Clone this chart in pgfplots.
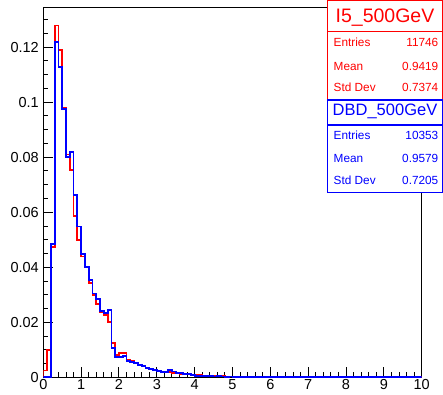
\documentclass[border=0pt]{standalone}
\usepackage{fontspec}
\setmainfont{Liberation Sans}
\usepackage{pgfplots}
\usepackage{pgfplotstable}
\pgfplotsset{compat=1.18}

% bin low edge, normalised content (last row closes the outline at x=10)
\pgfplotstableread[row sep=\\]{
x y\\
0.0 0\\ 0.0 0.0025\\ 0.1 0.0100\\ 0.2 0.0475\\ 0.3 0.1279\\ 0.4 0.1190\\
0.5 0.0978\\ 0.6 0.0810\\ 0.7 0.0755\\ 0.8 0.0587\\ 0.9 0.0499\\
1.0 0.0439\\ 1.1 0.0400\\ 1.2 0.0342\\ 1.3 0.0299\\ 1.4 0.0267\\
1.5 0.0238\\ 1.6 0.0227\\ 1.7 0.0202\\ 1.8 0.0124\\ 1.9 0.0081\\
2.0 0.0087\\ 2.1 0.0087\\ 2.2 0.0065\\ 2.3 0.0058\\ 2.4 0.0051\\
2.5 0.0046\\ 2.6 0.0040\\ 2.7 0.0034\\ 2.8 0.0030\\ 2.9 0.0026\\
3.0 0.0022\\ 3.1 0.0021\\ 3.2 0.0019\\ 3.3 0.0018\\ 3.4 0.0016\\
3.5 0.0015\\ 3.6 0.0013\\ 3.7 0.0012\\ 3.8 0.0010\\ 3.9 0.0009\\
4.0 0.0008\\ 4.1 0.0007\\ 4.2 0.0006\\ 4.3 0.0006\\ 4.4 0.0005\\
4.5 0.0005\\ 4.6 0.0004\\ 4.7 0.0004\\ 4.8 0.0003\\ 4.9 0.0003\\
5.0 0.0003\\ 5.1 0.0002\\ 5.2 0.0003\\ 5.3 0.0002\\ 5.4 0.0002\\
5.5 0.0002\\ 5.6 0.0001\\ 5.7 0.0002\\ 5.8 0.0001\\ 5.9 0.0001\\
6.0 0.0001\\ 6.1 0.0001\\ 6.2 0.0001\\ 6.3 0\\ 6.4 0.0001\\
6.5 0.0001\\ 6.6 0\\ 6.7 0.0001\\ 6.8 0\\ 6.9 0.0001\\
7.0 0.0001\\ 7.1 0\\ 7.2 0\\ 7.3 0.0001\\ 7.4 0\\
7.5 0\\ 7.6 0\\ 7.7 0.0001\\ 7.8 0\\ 7.9 0\\
8.0 0\\ 8.1 0\\ 8.2 0.0001\\ 8.3 0\\ 8.4 0\\
8.5 0\\ 8.6 0\\ 8.7 0\\ 8.8 0\\ 8.9 0\\
9.0 0.0001\\ 9.1 0\\ 9.2 0\\ 9.3 0\\ 9.4 0\\
9.5 0\\ 9.6 0\\ 9.7 0\\ 9.8 0\\ 9.9 0\\
10.0 0\\
}\histred

\pgfplotstableread[row sep=\\]{
x y\\
0.0 0\\ 0.1 0\\ 0.2 0.0485\\ 0.3 0.1218\\ 0.4 0.1129\\
0.5 0.0975\\ 0.6 0.0802\\ 0.7 0.0820\\ 0.8 0.0663\\ 0.9 0.0548\\
1.0 0.0449\\ 1.1 0.0400\\ 1.2 0.0354\\ 1.3 0.0305\\ 1.4 0.0284\\
1.5 0.0241\\ 1.6 0.0234\\ 1.7 0.0246\\ 1.8 0.0107\\ 1.9 0.0074\\
2.0 0.0074\\ 2.1 0.0078\\ 2.2 0.0058\\ 2.3 0.0057\\ 2.4 0.0052\\
2.5 0.0045\\ 2.6 0.0041\\ 2.7 0.0035\\ 2.8 0.0030\\ 2.9 0.0027\\
3.0 0.0022\\ 3.1 0.0020\\ 3.2 0.0019\\ 3.3 0.0026\\ 3.4 0.0021\\
3.5 0.0015\\ 3.6 0.0016\\ 3.7 0.0012\\ 3.8 0.0013\\ 3.9 0.0008\\
4.0 0.0006\\ 4.1 0.0005\\ 4.2 0.0005\\ 4.3 0.0004\\ 4.4 0.0004\\
4.5 0.0003\\ 4.6 0.0004\\ 4.7 0.0003\\ 4.8 0.0002\\ 4.9 0.0003\\
5.0 0.0002\\ 5.1 0.0002\\ 5.2 0.0001\\ 5.3 0.0002\\ 5.4 0.0001\\
5.5 0.0001\\ 5.6 0.0001\\ 5.7 0.0001\\ 5.8 0.0002\\ 5.9 0.0001\\
6.0 0.0001\\ 6.1 0\\ 6.2 0.0001\\ 6.3 0\\ 6.4 0\\
6.5 0.0001\\ 6.6 0\\ 6.7 0\\ 6.8 0.0001\\ 6.9 0\\
7.0 0\\ 7.1 0\\ 7.2 0.0001\\ 7.3 0\\ 7.4 0\\
7.5 0\\ 7.6 0\\ 7.7 0\\ 7.8 0\\ 7.9 0\\
8.0 0\\ 8.1 0\\ 8.2 0\\ 8.3 0\\ 8.4 0\\
8.5 0\\ 8.6 0\\ 8.7 0\\ 8.8 0\\ 8.9 0\\
9.0 0\\ 9.1 0\\ 9.2 0\\ 9.3 0\\ 9.4 0\\
9.5 0\\ 9.6 0\\ 9.7 0\\ 9.8 0\\ 9.9 0\\
10.0 0\\
}\histblue

\begin{document}
\begin{tikzpicture}
\begin{axis}[
    name=ax, at={(0,0)}, anchor=south west,
    scale only axis, width=378.4pt, height=370pt,
    xmin=0, xmax=10, ymin=0, ymax=0.1345,
    axis line style={line width=1.2pt},
    xtick={0,1,2,3,4,5,6,7,8,9,10}, minor x tick num=4,
    ytick={0,0.02,0.04,0.06,0.08,0.1,0.12},
    minor ytick={0.005,0.01,0.015,0.025,0.03,0.035,0.045,0.05,0.055,0.065,0.07,0.075,
        0.085,0.09,0.095,0.105,0.11,0.115,0.125,0.13},
    xtick pos=left, ytick pos=left,
    tick align=inside, major tick length=10pt, minor tick length=5pt,
    tick style={black, line width=1pt},
    scaled y ticks=false,
    yticklabel style={/pgf/number format/fixed, /pgf/number format/precision=2},
    /pgf/number format/assume math mode=true,
    ticklabel style={font=\fontsize{14.5}{16}\selectfont},
    xticklabel style={yshift=1pt},
    yticklabel style={xshift=-1pt},
]
\addplot[const plot, red, line width=1.8pt] table {\histred};
\addplot[const plot, blue, line width=1.8pt] table {\histblue};
\end{axis}

% stat boxes, in picture pixels measured from the top left corner
\begin{scope}[shift={(-43.3pt,377.3pt)}, x=1pt, y=-1pt]
  \draw[red, line width=1.2pt, fill=white] (327.3,0.8) rectangle (442.4,99.3);
  \draw[red, line width=1.2pt] (327.3,31.7) -- (442.4,31.7);
  \node[red, font=\fontsize{19.5}{20}\selectfont] at (385,17.5) {I5\_500GeV};
  \begin{scope}[every node/.style={red, font=\fontsize{11.8}{13}\selectfont, inner sep=0pt}]
    \node[anchor=mid west] at (333.5,43.5) {Entries};
    \node[anchor=mid east] at (438.5,43.5) {11746};
    \node[anchor=mid west] at (333.5,67.5) {Mean};
    \node[anchor=mid east] at (438.5,67.5) {0.9419};
    \node[anchor=mid west] at (333.5,89) {Std Dev};
    \node[anchor=mid east] at (438.5,89) {0.7374};
  \end{scope}
  \draw[blue, line width=1.2pt, fill=white] (327.3,100) rectangle (442.4,192.7);
  \draw[blue, line width=1.2pt] (327.3,125) -- (442.4,125);
  \node[blue, font=\fontsize{16.5}{18}\selectfont] at (385,111) {DBD\_500GeV};
  \begin{scope}[every node/.style={blue, font=\fontsize{11.8}{13}\selectfont, inner sep=0pt}]
    \node[anchor=mid west] at (333.5,137) {Entries};
    \node[anchor=mid east] at (438.5,137) {10353};
    \node[anchor=mid west] at (333.5,160) {Mean};
    \node[anchor=mid east] at (438.5,160) {0.9579};
    \node[anchor=mid west] at (333.5,182) {Std Dev};
    \node[anchor=mid east] at (438.5,182) {0.7205};
  \end{scope}
\end{scope}

\pgfresetboundingbox
\path[use as bounding box] (-43.3pt,-16.7pt) rectangle (399.7pt,377.3pt);
\end{tikzpicture}
\end{document}
